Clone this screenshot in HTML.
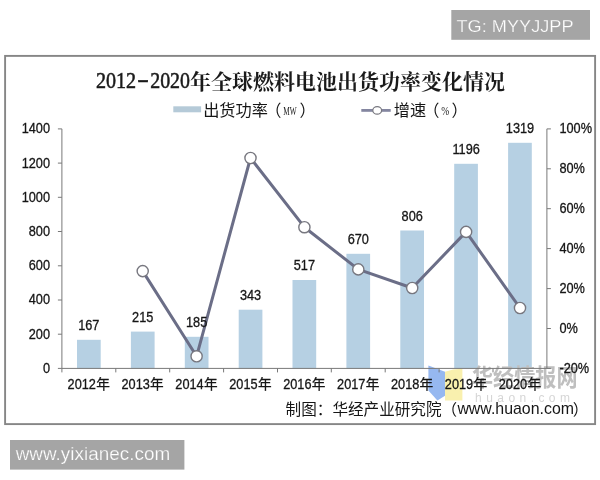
<!DOCTYPE html>
<html lang="zh-CN"><head><meta charset="utf-8"><title>2012-2020年全球燃料电池出货功率变化情况</title>
<style>
html,body{margin:0;padding:0;background:#fff;}
body{width:600px;height:480px;overflow:hidden;position:relative;font-family:"Liberation Sans","Noto Sans CJK SC",sans-serif;}
svg{position:absolute;left:0;top:0;display:block}
.t{font-family:"Liberation Sans","Noto Sans CJK SC",sans-serif;font-size:14px;fill:#161616;stroke:#161616;stroke-width:0.3px}
.title{font-family:"Liberation Serif","Noto Serif CJK SC",serif;font-weight:bold;font-size:21px;fill:#1a1a1a}
.lg{font-family:"Liberation Sans","Noto Sans CJK SC",sans-serif;font-size:16.2px;fill:#161616}
.sm{font-family:"Liberation Serif","Noto Serif CJK SC",serif;font-size:13.5px;fill:#222}
.wm{font-family:"Liberation Sans",sans-serif;fill:#fff;stroke:#a5a5a5;stroke-width:0.25px}
</style></head><body>
<svg width="600" height="480" viewBox="0 0 600 480">
<rect x="5.1" y="55.9" width="590" height="368.2" fill="#fff" stroke="#868686" stroke-width="1.9"/>
<text x="95.9" y="88.4" class="title" style="font-size:23.6px;font-weight:normal;stroke:#1a1a1a;stroke-width:0.55px" textLength="40.2" lengthAdjust="spacingAndGlyphs">2012</text>
<text x="137.2" y="87.4" class="title" style="font-size:23.6px;font-weight:normal;stroke:#1a1a1a;stroke-width:0.5px" textLength="11.6" lengthAdjust="spacingAndGlyphs">-</text>
<text x="150.2" y="88.4" class="title" style="font-size:23.6px;font-weight:normal;stroke:#1a1a1a;stroke-width:0.55px" textLength="39.8" lengthAdjust="spacingAndGlyphs">2020</text>
<text x="189.9" y="88.8" class="title">年全球燃料电池出货功率变化情况</text>
<rect x="173.3" y="106.3" width="27.8" height="6" fill="#b5cad8"/>
<text x="203.2" y="115.7" class="lg">出货功率<tspan dx="-2.7">（</tspan></text>
<text x="283.2" y="115.2" class="sm" textLength="13.4" lengthAdjust="spacingAndGlyphs">MW</text>
<text x="299.4" y="115.7" class="lg">）</text>
<path d="M361.3 110.4H390.7" stroke="#8486a0" stroke-width="2.8"/>
<ellipse cx="377.2" cy="110.4" rx="4.4" ry="3.7" fill="#fff" stroke="#77777f" stroke-width="1.2"/>
<text x="393.8" y="115.7" class="lg">增速<tspan dx="-2.9">（</tspan></text>
<text x="441.3" y="115.2" class="sm" textLength="8" lengthAdjust="spacingAndGlyphs">%</text>
<text x="451.5" y="115.7" class="lg">）</text>
<rect x="77.0" y="339.8" width="23.7" height="28.6" fill="#b6d0e3"/>
<rect x="130.9" y="331.6" width="23.7" height="36.8" fill="#b6d0e3"/>
<rect x="184.8" y="336.8" width="23.7" height="31.6" fill="#b6d0e3"/>
<rect x="238.7" y="309.7" width="23.7" height="58.7" fill="#b6d0e3"/>
<rect x="292.5" y="280.0" width="23.7" height="88.4" fill="#b6d0e3"/>
<rect x="346.4" y="253.8" width="23.7" height="114.6" fill="#b6d0e3"/>
<rect x="400.3" y="230.5" width="23.7" height="137.9" fill="#b6d0e3"/>
<rect x="454.2" y="163.8" width="23.7" height="204.6" fill="#b6d0e3"/>
<rect x="508.1" y="142.8" width="23.7" height="225.6" fill="#b6d0e3"/>
<!-- logo watermark -->
<g>
<path d="M428.4 365.6l10 3.6l6.6 2.6v24l-7.6 4.8l-9 -10z" fill="#96b8f0"/>
<path d="M445 371.8l8 -2.4l9.4 -0.6v31.8h-17.4z" fill="#f9f0ae"/>
<text x="472" y="385.8" font-size="24" font-weight="bold" fill="#bfbfbf" font-family="'Liberation Sans','Noto Sans CJK SC',sans-serif" textLength="105.5" lengthAdjust="spacingAndGlyphs">华经情报网</text>
<text x="475" y="401.5" font-size="12" fill="#d6d6d6" font-family="'Liberation Sans',sans-serif" textLength="95">huaon.com</text>
</g>
<path d="M61.9 128.9V368.4H546.9V128.9" fill="none" stroke="#787878" stroke-width="1"/>
<path d="M57.9 368.4H61.9" stroke="#787878" stroke-width="1"/>
<text transform="translate(50.0 372.8) scale(0.91 1)" text-anchor="end" class="t">0</text>
<path d="M57.9 334.2H61.9" stroke="#787878" stroke-width="1"/>
<text transform="translate(50.0 338.6) scale(0.91 1)" text-anchor="end" class="t">200</text>
<path d="M57.9 300.0H61.9" stroke="#787878" stroke-width="1"/>
<text transform="translate(50.0 304.4) scale(0.91 1)" text-anchor="end" class="t">400</text>
<path d="M57.9 265.8H61.9" stroke="#787878" stroke-width="1"/>
<text transform="translate(50.0 270.2) scale(0.91 1)" text-anchor="end" class="t">600</text>
<path d="M57.9 231.5H61.9" stroke="#787878" stroke-width="1"/>
<text transform="translate(50.0 235.9) scale(0.91 1)" text-anchor="end" class="t">800</text>
<path d="M57.9 197.3H61.9" stroke="#787878" stroke-width="1"/>
<text transform="translate(50.0 201.7) scale(0.91 1)" text-anchor="end" class="t">1000</text>
<path d="M57.9 163.1H61.9" stroke="#787878" stroke-width="1"/>
<text transform="translate(50.0 167.5) scale(0.91 1)" text-anchor="end" class="t">1200</text>
<path d="M57.9 128.9H61.9" stroke="#787878" stroke-width="1"/>
<text transform="translate(50.0 133.3) scale(0.91 1)" text-anchor="end" class="t">1400</text>
<path d="M546.9 368.4h4" stroke="#787878" stroke-width="1"/>
<text transform="translate(559.4 372.7) scale(0.91 1)" class="t">-20%</text>
<path d="M546.9 328.5h4" stroke="#787878" stroke-width="1"/>
<text transform="translate(559.4 332.8) scale(0.91 1)" class="t">0%</text>
<path d="M546.9 288.6h4" stroke="#787878" stroke-width="1"/>
<text transform="translate(559.4 292.9) scale(0.91 1)" class="t">20%</text>
<path d="M546.9 248.6h4" stroke="#787878" stroke-width="1"/>
<text transform="translate(559.4 252.9) scale(0.91 1)" class="t">40%</text>
<path d="M546.9 208.7h4" stroke="#787878" stroke-width="1"/>
<text transform="translate(559.4 213.0) scale(0.91 1)" class="t">60%</text>
<path d="M546.9 168.8h4" stroke="#787878" stroke-width="1"/>
<text transform="translate(559.4 173.1) scale(0.91 1)" class="t">80%</text>
<path d="M546.9 128.9h4" stroke="#787878" stroke-width="1"/>
<text transform="translate(559.4 133.2) scale(0.91 1)" class="t">100%</text>
<path d="M61.9 368.4v4" stroke="#787878" stroke-width="1"/>
<path d="M115.8 368.4v4" stroke="#787878" stroke-width="1"/>
<path d="M169.7 368.4v4" stroke="#787878" stroke-width="1"/>
<path d="M223.6 368.4v4" stroke="#787878" stroke-width="1"/>
<path d="M277.5 368.4v4" stroke="#787878" stroke-width="1"/>
<path d="M331.3 368.4v4" stroke="#787878" stroke-width="1"/>
<path d="M385.2 368.4v4" stroke="#787878" stroke-width="1"/>
<path d="M439.1 368.4v4" stroke="#787878" stroke-width="1"/>
<path d="M493.0 368.4v4" stroke="#787878" stroke-width="1"/>
<text transform="translate(95.9 388.8) scale(0.91 1)" text-anchor="end" class="t">2012</text><text x="96.2" y="388.8" class="t" style="font-size:13.6px">年</text>
<text transform="translate(149.8 388.8) scale(0.91 1)" text-anchor="end" class="t">2013</text><text x="150.1" y="388.8" class="t" style="font-size:13.6px">年</text>
<text transform="translate(203.7 388.8) scale(0.91 1)" text-anchor="end" class="t">2014</text><text x="204.0" y="388.8" class="t" style="font-size:13.6px">年</text>
<text transform="translate(257.6 388.8) scale(0.91 1)" text-anchor="end" class="t">2015</text><text x="257.9" y="388.8" class="t" style="font-size:13.6px">年</text>
<text transform="translate(311.5 388.8) scale(0.91 1)" text-anchor="end" class="t">2016</text><text x="311.8" y="388.8" class="t" style="font-size:13.6px">年</text>
<text transform="translate(365.4 388.8) scale(0.91 1)" text-anchor="end" class="t">2017</text><text x="365.7" y="388.8" class="t" style="font-size:13.6px">年</text>
<text transform="translate(419.3 388.8) scale(0.91 1)" text-anchor="end" class="t">2018</text><text x="419.6" y="388.8" class="t" style="font-size:13.6px">年</text>
<text transform="translate(473.2 388.8) scale(0.91 1)" text-anchor="end" class="t">2019</text><text x="473.5" y="388.8" class="t" style="font-size:13.6px">年</text>
<text transform="translate(527.1 388.8) scale(0.91 1)" text-anchor="end" class="t">2020</text><text x="527.4" y="388.8" class="t" style="font-size:13.6px">年</text>
<polyline points="142.7,271.1 196.6,356.3 250.5,158.0 304.4,227.2 358.3,269.4 412.2,288.0 466.1,231.9 520.0,308.0" fill="none" stroke="#6b6e87" stroke-width="3" stroke-linejoin="round"/>
<circle cx="142.7" cy="271.1" r="5.6" fill="#fff" stroke="#77777f" stroke-width="1.4"/>
<circle cx="196.6" cy="356.3" r="5.6" fill="#fff" stroke="#77777f" stroke-width="1.4"/>
<circle cx="250.5" cy="158.0" r="5.6" fill="#fff" stroke="#77777f" stroke-width="1.4"/>
<circle cx="304.4" cy="227.2" r="5.6" fill="#fff" stroke="#77777f" stroke-width="1.4"/>
<circle cx="358.3" cy="269.4" r="5.6" fill="#fff" stroke="#77777f" stroke-width="1.4"/>
<circle cx="412.2" cy="288.0" r="5.6" fill="#fff" stroke="#77777f" stroke-width="1.4"/>
<circle cx="466.1" cy="231.9" r="5.6" fill="#fff" stroke="#77777f" stroke-width="1.4"/>
<circle cx="520.0" cy="308.0" r="5.6" fill="#fff" stroke="#77777f" stroke-width="1.4"/>
<text transform="translate(88.8 330.0) scale(0.91 1)" text-anchor="middle" class="t">167</text>
<text transform="translate(142.7 321.8) scale(0.91 1)" text-anchor="middle" class="t">215</text>
<text transform="translate(196.6 327.0) scale(0.91 1)" text-anchor="middle" class="t">185</text>
<text transform="translate(250.5 299.9) scale(0.91 1)" text-anchor="middle" class="t">343</text>
<text transform="translate(304.4 270.2) scale(0.91 1)" text-anchor="middle" class="t">517</text>
<text transform="translate(358.3 244.0) scale(0.91 1)" text-anchor="middle" class="t">670</text>
<text transform="translate(412.2 220.7) scale(0.91 1)" text-anchor="middle" class="t">806</text>
<text transform="translate(466.1 154.0) scale(0.91 1)" text-anchor="middle" class="t">1196</text>
<text transform="translate(520.0 133.0) scale(0.91 1)" text-anchor="middle" class="t">1319</text>
<text x="285.6" y="415" class="lg" style="font-size:15.6px">制图：华经产业研究院（</text>
<text x="457.4" y="414.3" class="lg" style="font-size:15.9px">www.huaon.com<tspan dx="-1.2" dy="0.4" style="font-size:15.6px">）</tspan></text>
<rect x="451.3" y="10" width="138.7" height="29.8" fill="#a5a5a5"/>
<text x="456.5" y="31.5" class="wm" font-size="17.2" textLength="117" lengthAdjust="spacingAndGlyphs">TG: MYYJJPP</text>
<rect x="10" y="440" width="174.4" height="29.6" fill="#a5a5a5"/>
<text x="15.7" y="460" class="wm" font-size="18.6" textLength="154.5" lengthAdjust="spacingAndGlyphs">www.yixianec.com</text>
</svg>
</body></html>
